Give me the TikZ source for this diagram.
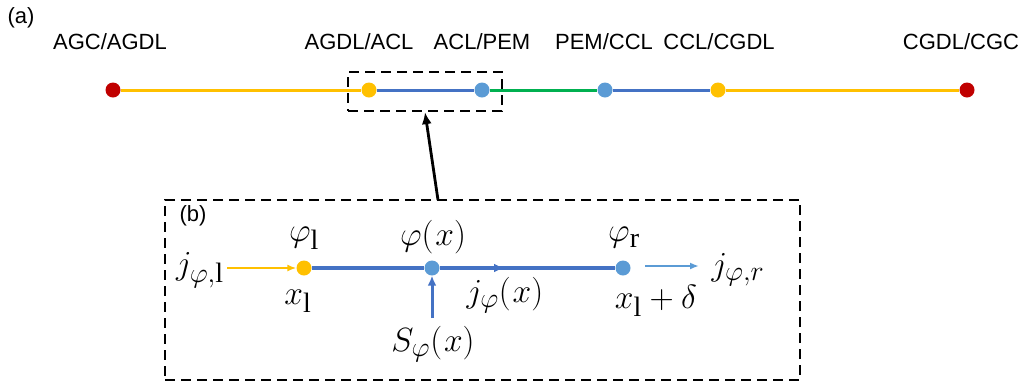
\documentclass[tikz,border=0pt]{standalone}
\usepackage{graphicx}
\usepackage{fontspec}
\setmainfont{Liberation Serif}
\newfontfamily\arialf{Liberation Sans}
\usetikzlibrary{arrows.meta}
\definecolor{cyel}{HTML}{FFC000}
\definecolor{cblue}{HTML}{4472C4}
\definecolor{clblue}{HTML}{5B9BD5}
\definecolor{cgreen}{HTML}{00B050}
\definecolor{cred}{HTML}{C00000}
\newcommand{\mymath}[1]{\scalebox{1.35}{$#1$}}
\begin{document}
\begin{tikzpicture}[x=1pt,y=-1pt,
  lbl/.style={font=\arialf\fontsize{22}{26}\selectfont, inner sep=0},
  mth/.style={font=\fontsize{24.88}{30}\selectfont, inner sep=0},
  dot/.style={circle, inner sep=0, minimum size=15pt, fill=#1},
  seg/.style={line width=3pt, draw=#1},
  dbox/.style={draw=black, line width=2.2pt, dash pattern=on 10pt off 6pt},
]
\useasboundingbox (0,0) rectangle (1033,384);
% (a)
\node[lbl] (la) at (21,18) {(a)};
\node[dot=cred]   (d1) at (113,90) {};
\node[dot=cyel]   (d2) at (369,90) {};
\node[dot=clblue] (d3) at (482,90) {};
\node[dot=clblue] (d4) at (605,90) {};
\node[dot=cyel]   (d5) at (718,90) {};
\node[dot=cred]   (d6) at (967,90) {};
\draw[seg=cyel] (d1) -- (d2);
\draw[seg=cblue] (d2) -- (d3);
\draw[seg=cgreen] (d3) -- (d4);
\draw[seg=cblue] (d4) -- (d5);
\draw[seg=cyel] (d5) -- (d6);
\node[lbl] (t1) at (110,42) {AGC/AGDL};
\node[lbl] (t2) at (359,42) {AGDL/ACL};
\node[lbl] (t3) at (482,42) {ACL/PEM};
\node[lbl] (t4) at (604,42) {PEM/CCL};
\node[lbl] (t5) at (719,42) {CCL/CGDL};
\node[lbl] (t6) at (961,42) {CGDL/CGC};
% zoom box and arrow
\node[dbox, minimum width=154pt, minimum height=39pt, inner sep=0] (zoom) at (425,91.5) {};
\node[dbox, minimum width=635pt, minimum height=180pt, inner sep=0] (big) at (482.5,290) {};
\coordinate (astart) at (438,200);
\draw[line width=2.8pt, -{Latex[length=12pt,width=10pt]}] (astart) -- (zoom.south);
% (b)
\node[lbl] (lb) at (193,216) {(b)};
\node[dot=cyel]   (b1) at (304,268) {};
\node[dot=clblue] (b2) at (432,268) {};
\node[dot=clblue] (b3) at (623,268) {};
\coordinate (bm) at (504,268);
\draw[line width=3.2pt, cblue] (b1) -- (b2);
\draw[line width=3.2pt, cblue] (b2) -- (b3);
\draw[line width=3.2pt, cblue, -{Latex[length=10pt,width=9pt]}] (b2) -- (bm);
\coordinate (ya) at (227,268);
\draw[line width=1.6pt, cyel, -{Latex[length=9pt,width=7pt]}] (ya) -- (b1);
\coordinate (la1) at (645,266);
\coordinate (la2) at (699,266);
\draw[line width=1.8pt, clblue, -{Latex[length=9pt,width=7pt]}] (la1) -- (la2);
\coordinate (sa) at (432,318);
\draw[line width=3pt, cblue, -{Latex[length=10pt,width=9pt]}] (sa) -- (b2);
\node[mth] (m1) at (200,270) {\mymath{j_{\varphi,\mathrm{l}}}};
\node[mth] (m2) at (304,238) {\mymath{\varphi_{\mathrm{l}}}};
\node[mth] (m3) at (298,301) {\mymath{x_{\mathrm{l}}}};
\node[mth] (m4) at (433,237) {\mymath{\varphi\bigl(\mkern1mu x\bigr)}};
\node[mth] (m5) at (505,295) {\mymath{j_{\varphi}\bigl(\mkern1mu x\bigr)}};
\node[mth] (m6) at (433,344) {\mymath{S_{\varphi}\bigl(\mkern1mu x\bigr)}};
\node[mth] (m7) at (624,238) {\mymath{\varphi_{\mathrm{r}}}};
\node[mth] (m8) at (656,301) {\mymath{x_{\mathrm{l}}+\delta}};
\node[mth] (m9) at (738,270) {\mymath{j_{\varphi,r}}};
\end{tikzpicture}
\end{document}
